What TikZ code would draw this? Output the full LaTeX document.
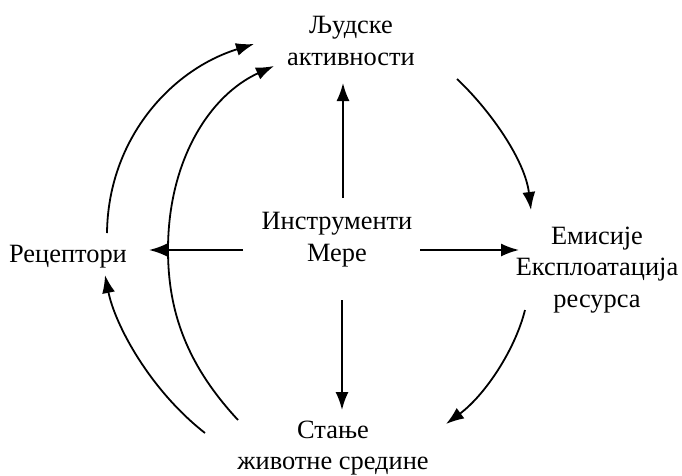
\documentclass[tikz,border=0pt]{standalone}
\usepackage{fontspec}
\setmainfont{Liberation Serif}
\usetikzlibrary{arrows.meta}
\begin{document}
\begin{tikzpicture}[x=1pt,y=-1pt,
  lbl/.style={align=center,inner sep=0pt,font=\fontsize{26.4}{31.5}\selectfont},
  arr/.style={line width=1.8pt,-{Latex[length=18pt,width=13pt]}}]
\useasboundingbox (0,0) rectangle (682,475);
\node[lbl] (ljud) at (351,41) {Људске\\активности};
\node[lbl] (instr) at (337,239.5) {Инструменти\\Мере};
\node[lbl] (rec) at (68,257) {Рецептори};
\node[lbl] (emis) at (597,270) {Емисије\\Експлоатација\\ресурса};
\node[lbl] (stanje) at (333,448) {Стање\\животне средине};
% straight arrows
\coordinate (iu) at (343,198); \coordinate (lu) at (343,83);
\coordinate (il) at (243,250); \coordinate (rl) at (149,250);
\coordinate (ir) at (420,250); \coordinate (er) at (519,250);
\coordinate (id) at (342,300); \coordinate (sd) at (342,410);
\draw[arr] (iu) -- (lu);
\draw[arr] (il) -- (rl);
\draw[arr] (ir) -- (er);
\draw[arr] (id) -- (sd);
% curved arrows
\coordinate (a1) at (457,79); \coordinate (a2) at (531,210);
\draw[arr] (a1) .. controls (490,110) and (525,160) .. (a2);
\coordinate (b1) at (525,310); \coordinate (b2) at (446,424);
\draw[arr] (b1) .. controls (515,350) and (485,395) .. (b2);
\coordinate (c1) at (205,433); \coordinate (c2) at (105,275);
\draw[arr] (c1) .. controls (150,390) and (115,325) .. (c2);
\coordinate (d1) at (107,233); \coordinate (d2) at (254,44);
\draw[arr] (d1) .. controls (108,140) and (170,70) .. (d2);
\coordinate (e1) at (238,420); \coordinate (em) at (168,250); \coordinate (e2) at (274,66);
\draw[arr] (e1) .. controls (187,365) and (168,312) .. (em) .. controls (168,160) and (210,95) .. (e2);
\end{tikzpicture}
\end{document}
